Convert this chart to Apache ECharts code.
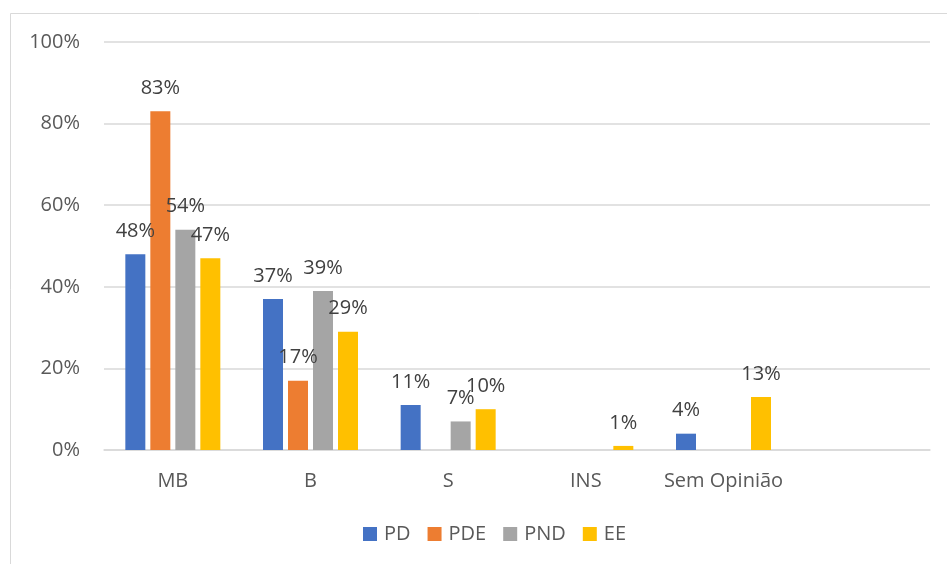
<!DOCTYPE html>
<html>
<head>
<meta charset="utf-8">
<script src="https://cdn.jsdelivr.net/npm/echarts@6/dist/echarts.min.js"></script>
<style>
html, body { margin: 0; padding: 0; background: #fff; }
#main { width: 947px; height: 564px; }
</style>
</head>
<body>
<div id="main"></div>
<script>
var myChart = echarts.init(document.getElementById('main'));

// categories (last one is an empty slot in the original sheet)
let categories = ['MB', 'B', 'S', 'INS', 'Sem Opinião', ''];
let seriesNames = ['PD', 'PDE', 'PND', 'EE'];
let colors = ['#4472C4', '#ED7D31', '#A5A5A5', '#FFC000'];

// values in %, null = empty cell (no bar, no label)
let pd  = [48, 37, 11, null, 4, null];
let pde = [83, 17, null, null, null, null];
let pnd = [54, 39, 7, null, null, null];
let ee  = [47, 29, 10, 1, 13, null];

let yTicks = [0, 20, 40, 60, 80, 100];

let font = 'Open Sans';

let makeSeries = function(name, data, color) {
    return {
        name: name,
        type: 'bar',
        data: data,
        barWidth: 20,
        barGap: '25%',
        itemStyle: { color: color },
        label: {
            show: true,
            position: 'top',
            distance: 13,
            formatter: '{c}%',
            color: '#404040',
            fontSize: 20,
            fontFamily: font
        }
    };
};

let option = {
    animation: false,
    backgroundColor: '#fff',
    graphic: [{
        type: 'rect',
        shape: { x: 10.5, y: 13.5, width: 960, height: 600 },
        style: { fill: 'none', stroke: '#d9d9d9', lineWidth: 1 },
        silent: true
    }],
    grid: {
        left: 104,
        right: 17,
        top: 42,
        bottom: 114
    },
    legend: {
        data: seriesNames,
        bottom: 15,
        left: 358,
        itemWidth: 14,
        itemHeight: 14,
        itemGap: 17,
        icon: 'rect',
        textStyle: {
            color: '#595959',
            fontSize: 20,
            fontFamily: font,
            padding: [0, 0, 0, 2]
        }
    },
    xAxis: {
        type: 'category',
        data: categories,
        axisTick: { show: false },
        axisLine: { lineStyle: { color: '#d9d9d9', width: 1.5 } },
        axisLabel: {
            interval: 0,
            color: '#595959',
            fontSize: 20,
            fontFamily: font,
            margin: 21
        }
    },
    yAxis: {
        type: 'value',
        min: yTicks[0],
        max: yTicks[yTicks.length - 1],
        interval: 20,
        axisLine: { show: false },
        axisTick: { show: false },
        splitLine: { lineStyle: { color: '#d9d9d9', width: 1.5 } },
        axisLabel: {
            color: '#595959',
            fontSize: 20,
            fontFamily: font,
            margin: 24,
            formatter: '{value}%'
        }
    },
    series: [
        makeSeries(seriesNames[0], pd, colors[0]),
        makeSeries(seriesNames[1], pde, colors[1]),
        makeSeries(seriesNames[2], pnd, colors[2]),
        makeSeries(seriesNames[3], ee, colors[3])
    ]
};

myChart.setOption(option);
</script>
</body>
</html>
